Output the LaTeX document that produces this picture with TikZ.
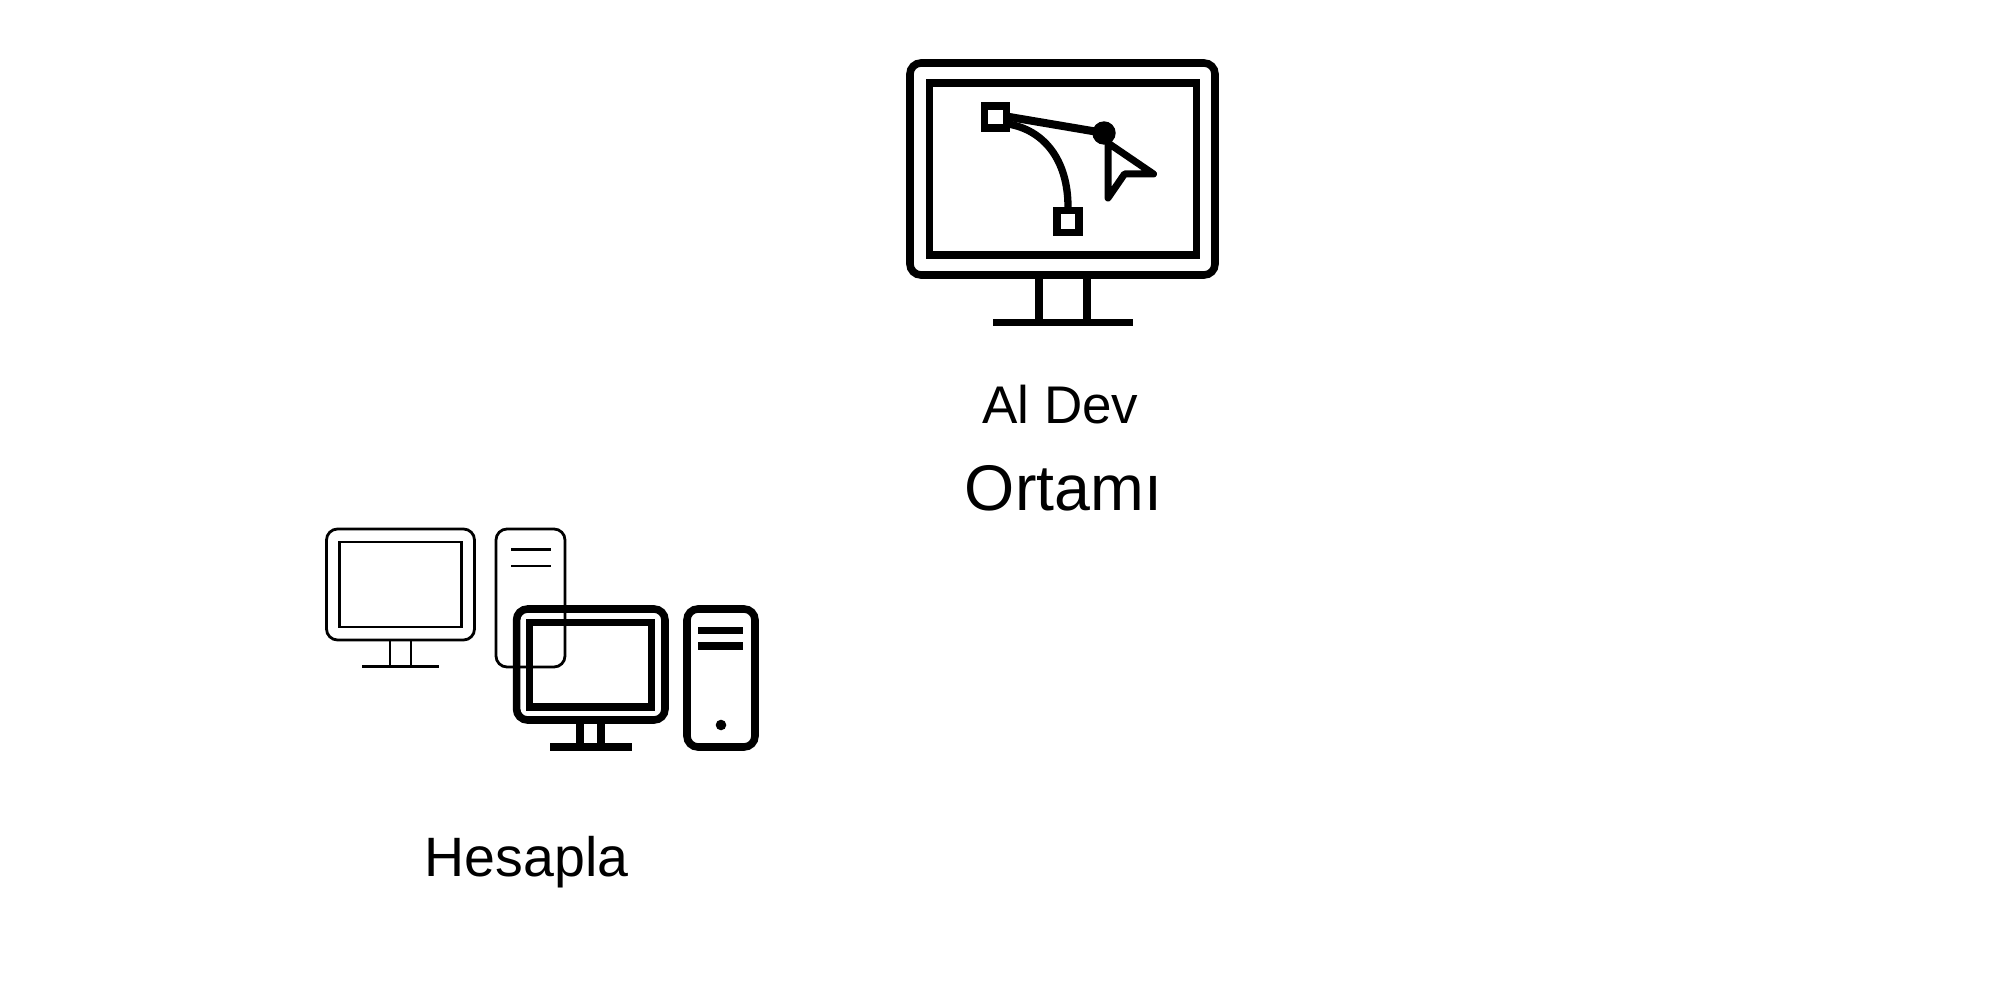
\documentclass[tikz,border=0pt]{standalone}
\usepackage{fontspec}
\setmainfont{Liberation Sans}
\usetikzlibrary{calc}

\begin{document}
\begin{tikzpicture}[x=1pt,y=-1pt,
    bold/.style={line width=7.6pt,line join=miter},
    faint/.style={line width=2.8pt,line join=miter},
    caption/.style={inner sep=0pt,anchor=base,font=\fontsize{55.5}{55.5}\selectfont}]

            \useasboundingbox (0,0) rectangle (2012,992);

            % Editor monitor
            \draw[bold,rounded corners=11] (910,63) rectangle (1215,275);
            \draw[bold] (929.5,83) rectangle (1196.5,255);
            \draw[bold] (1039,275) -- (1039,322.5); % Left leg
            \draw[bold] (1087,275) -- (1087,322.5); % Right leg
            \draw[bold] (993,322.5) -- (1133,322.5); % Foot

            % Curve with handles
            \draw[bold] (984.5,106) rectangle (1006.5,128);
            \draw[bold] (1057,210.5) rectangle (1079,232.5);
            \draw[line width=8pt] (1006.5,116.5) -- (1104,133); % Handle line
            \fill[black] (1104,133) circle (11.7); % Handle end
            \draw[line width=7.3pt] (1008,124) .. controls (1044,130) and (1068,160) .. (1068,207);

            % Cursor
            \draw[line width=7pt,line join=round] (1108,143) -- (1153.5,174) -- (1124.5,174) -- (1108,198) -- cycle;

            % Faint monitor
            \draw[faint,rounded corners=11] (326.5,529) rectangle (474.5,640);
            \draw[faint] (339.5,542) rectangle (461.5,627);
            \draw[faint] (390,640) -- (390,666.5);
            \draw[faint] (411,640) -- (411,666.5);
            \draw[faint] (362,666.5) -- (439,666.5);

            % Faint tower
            \draw[faint,rounded corners=11] (496,529) rectangle (565,667);
            \draw[faint] (511,549.7) -- (551,549.7);
            \draw[faint] (511,566) -- (551,566);

            % Compute monitor
            \draw[bold,rounded corners=11] (516.6,609) rectangle (665,720);
            \draw[bold] (529.6,622.5) rectangle (651.5,707);
            \draw[bold] (580,720) -- (580,747);
            \draw[bold] (601,720) -- (601,747);
            \draw[bold] (550,747) -- (632,747);

            % Compute tower
            \draw[bold,rounded corners=11] (687,609) rectangle (755,747);
            \draw[bold] (698,630.3) -- (743,630.3);
            \draw[bold] (698,646) -- (743,646);
            \fill[black] (721,725) circle (5.3); % Power button

            % Labels
            \node[caption,font=\fontsize{53}{53}\selectfont] (devlabel) at (1060.5,423) {Al Dev};
            \node[caption,font=\fontsize{64.5}{64.5}\selectfont] (envlabel) at (1063.5,510) {Ortamı};
            \node[caption] (computelabel) at (526.5,876) {Hesapla};

\end{tikzpicture}
\end{document}
